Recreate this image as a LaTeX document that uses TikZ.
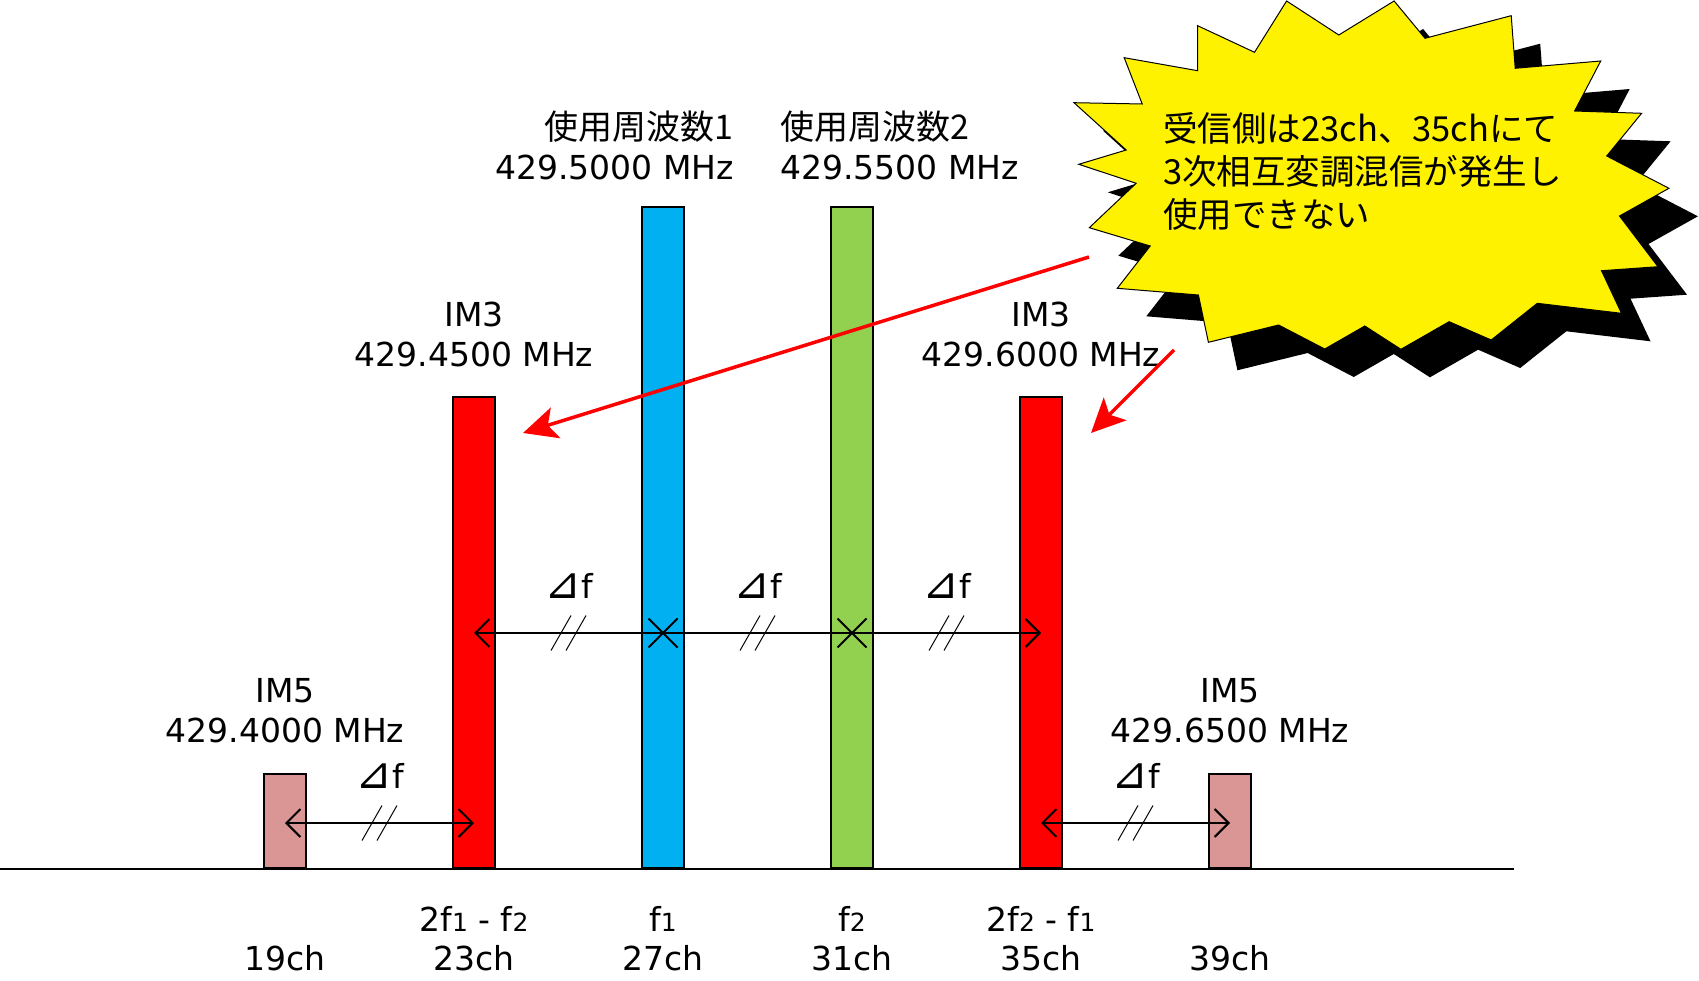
\documentclass[tikz,border=0pt]{standalone}
\usepackage{fontspec}
\setmainfont{DejaVu Sans}
\newfontfamily\jp{Noto Sans CJK JP}
\usetikzlibrary{arrows.meta, shapes.misc}

\definecolor{imred}{RGB}{255,0,0}
\definecolor{fblue}{RGB}{0,176,240}
\definecolor{fgreen}{RGB}{146,208,80}
\definecolor{impink}{RGB}{218,150,148}

\newcommand{\sm}[1]{{\fontsize{25}{25}\selectfont #1}}

\tikzset{
  bar/.style={draw=black, line width=2pt, minimum width=42pt, inner sep=0pt, anchor=south},
  lbl/.style={font=\fontsize{33}{40}\selectfont, align=center, inner sep=0pt},
  dfarrow/.style={line width=2pt, {Straight Barb[length=14pt,width=28pt]}-{Straight Barb[length=14pt,width=28pt]}},
  xmark/.style={draw, cross out, line width=2pt, minimum size=27pt, inner sep=0pt},
  callout/.style={imred, line width=3.5pt, -{Stealth[length=34pt,width=32pt,inset=8pt]}},
  burst/.pic={
    \path[pic actions] (1286.6,1) -- (1338.8,35) -- (1394.1,1) -- (1425,38.3) -- (1511.2,15.7)
      -- (1515.2,68.3) -- (1600.7,61) -- (1574.6,111) -- (1641.6,113.3) -- (1606.7,156)
      -- (1668.9,188.3) -- (1619.5,216) -- (1658,266.7) -- (1601.5,270.7) -- (1621.5,313.3)
      -- (1537.3,303.3) -- (1491.2,340) -- (1449.1,321.7) -- (1400.9,349.3) -- (1364.8,326)
      -- (1324.7,349) -- (1278.6,325) -- (1208.4,342.3) -- (1198.4,295) -- (1117.3,288.3)
      -- (1150.2,246) -- (1089.3,227.7) -- (1136.2,183.3) -- (1078.8,164.3) -- (1126.2,150)
      -- (1074,102.7) -- (1142.2,104) -- (1124.2,57.7) -- (1197.6,70.7) -- (1197.6,25.7)
      -- (1254.5,52.3) -- cycle;
  },
  slashes/.pic={
    \draw[line width=1pt] (-17.5,17.5) -- (2.5,-17.5) (-2.5,17.5) -- (17.5,-17.5);
  }
}

\begin{document}
\begin{tikzpicture}[x=1pt, y=-1pt]
  \useasboundingbox (0,0) rectangle (1699,981);

  % bars
  \node[bar, fill=impink, minimum height=94pt] (b19) at (285,869) {};
  \node[bar, fill=imred, minimum height=471pt] (b23) at (474,869) {};
  \node[bar, fill=fblue, minimum height=661pt] (b27) at (663,869) {};
  \node[bar, fill=fgreen, minimum height=661pt] (b31) at (852,869) {};
  \node[bar, fill=imred, minimum height=471pt] (b35) at (1041,869) {};
  \node[bar, fill=impink, minimum height=94pt] (b39) at (1230,869) {};
  \coordinate (axl) at (0,869);
  \coordinate (axr) at (1514,869);
  \draw[line width=2pt] (axl) -- (axr);

  % labels above the bars
  \node[lbl, anchor=east, align=right] (u1) at (734,145) {{\jp\fontsize{34}{40}\selectfont 使用周波数1}\\429.5000 MHz};
  \node[lbl, anchor=west, align=left] (u2) at (780,145) {{\jp\fontsize{34}{40}\selectfont 使用周波数2}\\429.5500 MHz};
  \node[lbl] (im3l) at (474,334) {IM3\\429.4500 MHz};
  \node[lbl] (im3r) at (1041,334) {IM3\\429.6000 MHz};
  \node[lbl] (im5l) at (285,711) {IM5\\429.4000 MHz};
  \node[lbl] (im5r) at (1230,711) {IM5\\429.6500 MHz};

  % labels below the axis
  \node[lbl] (n23) at (474,919) {2f\sm{1} - f\sm{2}};
  \node[lbl] (n27) at (663,919) {f\sm{1}};
  \node[lbl] (n31) at (852,919) {f\sm{2}};
  \node[lbl] (n35) at (1041,919) {2f\sm{2} - f\sm{1}};
  \foreach \x/\c in {285/19, 474/23, 663/27, 852/31, 1041/35, 1230/39}
    \node[lbl] (ch\c) at (\x,958) {\c ch};

  % spacing arrows
  \coordinate (a23) at (474,633);
  \coordinate (a35) at (1041,633);
  \coordinate (l19) at (285,823);
  \coordinate (l23) at (474,823);
  \coordinate (l35) at (1041,823);
  \coordinate (l39) at (1230,823);
  \draw[dfarrow] (a23) -- (a35);
  \draw[dfarrow] (l19) -- (l23);
  \draw[dfarrow] (l35) -- (l39);
  \node[xmark] (x27) at (663,633) {};
  \node[xmark] (x31) at (852,633) {};
  \foreach \x/\y in {568.5/633, 757.5/633, 946.5/633, 379.5/823, 1135.5/823} {
    \pic at (\x,\y) {slashes};
    \node[lbl] at (\x,\y-47) {{\fontsize{44}{44}\selectfont ⊿}f};
  }

  % starburst
  \pic[fill=black] at (29,28) {burst};
  \pic[fill=yellow, draw=black, line width=1pt] at (0,0) {burst};
  \node[anchor=west, align=left, inner sep=0pt, font=\jp\fontsize{34.5}{43}\selectfont] (note) at (1163,171)
    {受信側は23ch、35chにて\\3次相互変調混信が発生し\\使用できない};

  % callout arrows
  \coordinate (c1) at (1089,257);
  \coordinate (c2) at (1174,350);
  \coordinate (t23) at (523,433);
  \coordinate (t35) at (1091,433);
  \draw[callout] (c1) -- (t23);
  \draw[callout] (c2) -- (t35);
\end{tikzpicture}
\end{document}
